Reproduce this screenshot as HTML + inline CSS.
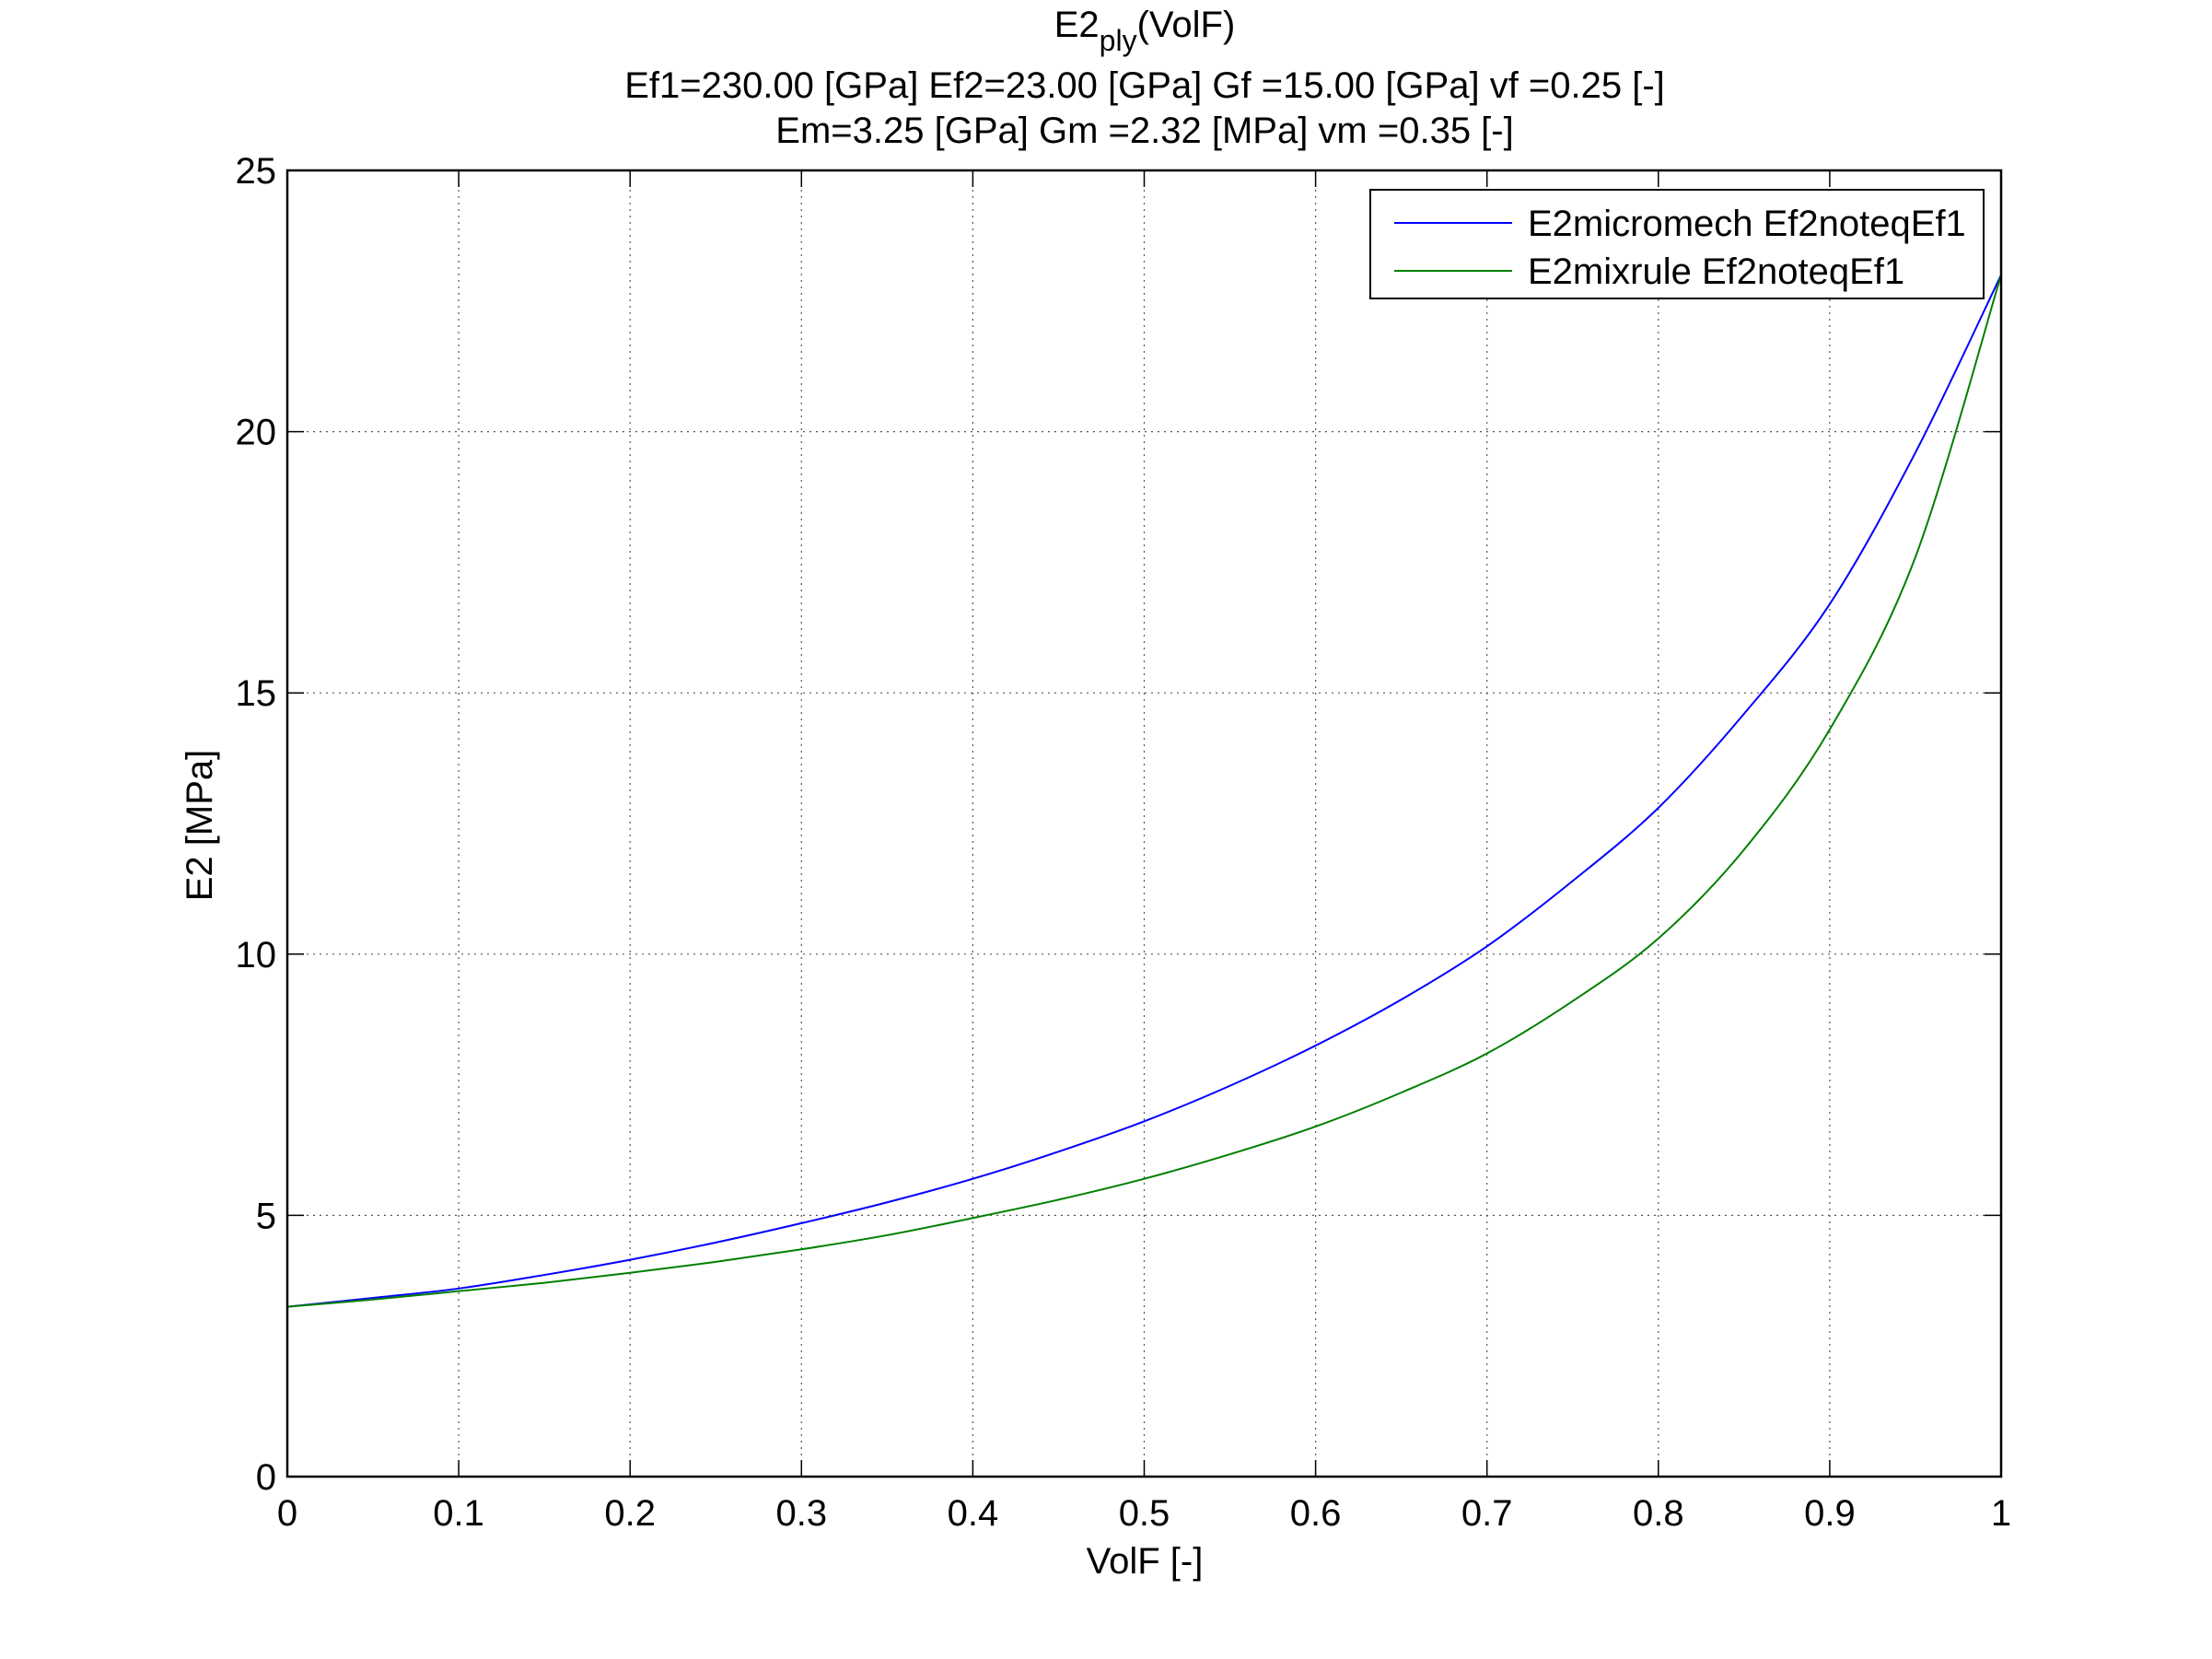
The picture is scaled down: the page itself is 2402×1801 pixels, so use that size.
<!DOCTYPE html>
<html><head><meta charset="utf-8"><style>
html,body{margin:0;padding:0;background:#fff;}
svg{display:block;font-family:"Liberation Sans",Arial,sans-serif;}
</style></head><body>
<svg id="chart" width="2402" height="1801" viewBox="0 0 2402 1801" xmlns="http://www.w3.org/2000/svg">
<rect width="2402" height="1801" fill="#fff"/>
<g id="grid"></g>
<g id="series"></g>
<g id="axes"></g>
<text x="1243" y="40" font-size="40" text-anchor="middle">E2<tspan font-size="32" dy="15">ply</tspan><tspan dy="-15">(VolF)</tspan></text>
<text x="1243" y="106" font-size="40" text-anchor="middle">Ef1=230.00 [GPa] Ef2=23.00 [GPa] Gf =15.00 [GPa] vf =0.25 [-]</text>
<text x="1243" y="155" font-size="40" text-anchor="middle">Em=3.25 [GPa] Gm =2.32 [MPa] vm =0.35 [-]</text>
<text x="1243" y="1708" font-size="40" text-anchor="middle">VolF [-]</text>
<text transform="translate(230,896) rotate(-90)" font-size="40" text-anchor="middle">E2 [MPa]</text>
<g>
<rect x="1488" y="206" width="666" height="118" fill="#fff" stroke="#000" stroke-width="2"/>
<line x1="1514" y1="242" x2="1642" y2="242" stroke="#0000ff" stroke-width="2"/>
<text x="1659" y="256" font-size="40">E2micromech Ef2noteqEf1</text>
<line x1="1514" y1="294" x2="1642" y2="294" stroke="#007f00" stroke-width="2"/>
<text x="1659" y="308" font-size="40">E2mixrule Ef2noteqEf1</text>
</g>
</svg>
<script>
const xValues = [0,0.05,0.1,0.15,0.2,0.25,0.3,0.35,0.4,0.45,0.5,0.55,0.6,0.65,0.7,0.75,0.8,0.85,0.9,0.95,1.0];
const micromechValues = [3.25,3.42,3.6,3.86,4.15,4.48,4.85,5.25,5.7,6.22,6.8,7.48,8.25,9.13,10.15,11.4,12.8,14.6,16.7,19.6,23.0];
const mixruleValues = [3.25,3.39,3.55,3.71,3.9,4.11,4.35,4.62,4.95,5.3,5.7,6.17,6.7,7.35,8.1,9.1,10.3,12.0,14.3,17.6,23.0];
const xTicks = [0,0.1,0.2,0.3,0.4,0.5,0.6,0.7,0.8,0.9,1];
const xTickLabels = ["0","0.1","0.2","0.3","0.4","0.5","0.6","0.7","0.8","0.9","1"];
const yTicks = [0,5,10,15,20,25];
const yTickLabels = ["0","5","10","15","20","25"];

const L=312,R=2173,T=185,B=1603;
const NS="http://www.w3.org/2000/svg";
const sx=v=>L+(v-0)/(1-0)*(R-L);
const sy=v=>B-(v-0)/(25-0)*(B-T);
function mk(tag,attrs,parent){const e=document.createElementNS(NS,tag);for(const k in attrs)e.setAttribute(k,attrs[k]);parent.appendChild(e);return e;}
const grid=document.getElementById('grid'),axes=document.getElementById('axes'),series=document.getElementById('series');
xTicks.forEach((t,i)=>{
  const x=sx(t);
  if(i>0&&i<xTicks.length-1){const g=mk('line',{x1:x,y1:T,x2:x,y2:B,stroke:'#555','stroke-width':1.2,'stroke-dasharray':'2,5'},grid);
  
  }
  mk('line',{x1:x,y1:B,x2:x,y2:B-18,stroke:'#000','stroke-width':1.5},axes);
  mk('line',{x1:x,y1:T,x2:x,y2:T+18,stroke:'#000','stroke-width':1.5},axes);
  const lb=mk('text',{x:x,y:1656,'font-size':40,'text-anchor':'middle'},axes);
  lb.textContent=xTickLabels[i];
  
  
});
yTicks.forEach((t,i)=>{
  const y=sy(t);
  if(i>0&&i<yTicks.length-1){const g=mk('line',{x1:L,y1:y,x2:R,y2:y,stroke:'#555','stroke-width':1.2,'stroke-dasharray':'2,5'},grid);
  
  }
  mk('line',{x1:L,y1:y,x2:L+18,y2:y,stroke:'#000','stroke-width':1.5},axes);
  mk('line',{x1:R,y1:y,x2:R-18,y2:y,stroke:'#000','stroke-width':1.5},axes);
  const lb=mk('text',{x:300,y:y+14,'font-size':40,'text-anchor':'end'},axes);
  lb.textContent=yTickLabels[i];
  
  
});
const box=mk('rect',{x:L,y:T,width:R-L,height:B-T,fill:'none',stroke:'#000','stroke-width':2.5},axes);


function smoothPath(xs,ys){
  const p=xs.map((x,i)=>[sx(x),sy(ys[i])]);
  let d='M'+p[0][0]+','+p[0][1];
  for(let i=0;i<p.length-1;i++){
    const p0=p[Math.max(0,i-1)],p1=p[i],p2=p[i+1],p3=p[Math.min(p.length-1,i+2)];
    const c1=[p1[0]+(p2[0]-p0[0])/6,p1[1]+(p2[1]-p0[1])/6];
    const c2=[p2[0]-(p3[0]-p1[0])/6,p2[1]-(p3[1]-p1[1])/6];
    d+=' C'+c1[0]+','+c1[1]+' '+c2[0]+','+c2[1]+' '+p2[0]+','+p2[1];
  }
  return d;
}
const s1=mk('path',{d:smoothPath(xValues,micromechValues),fill:'none',stroke:'#0000ff','stroke-width':2},series);


const s2=mk('path',{d:smoothPath(xValues,mixruleValues),fill:'none',stroke:'#007f00','stroke-width':2},series);


</script>
</body></html>
